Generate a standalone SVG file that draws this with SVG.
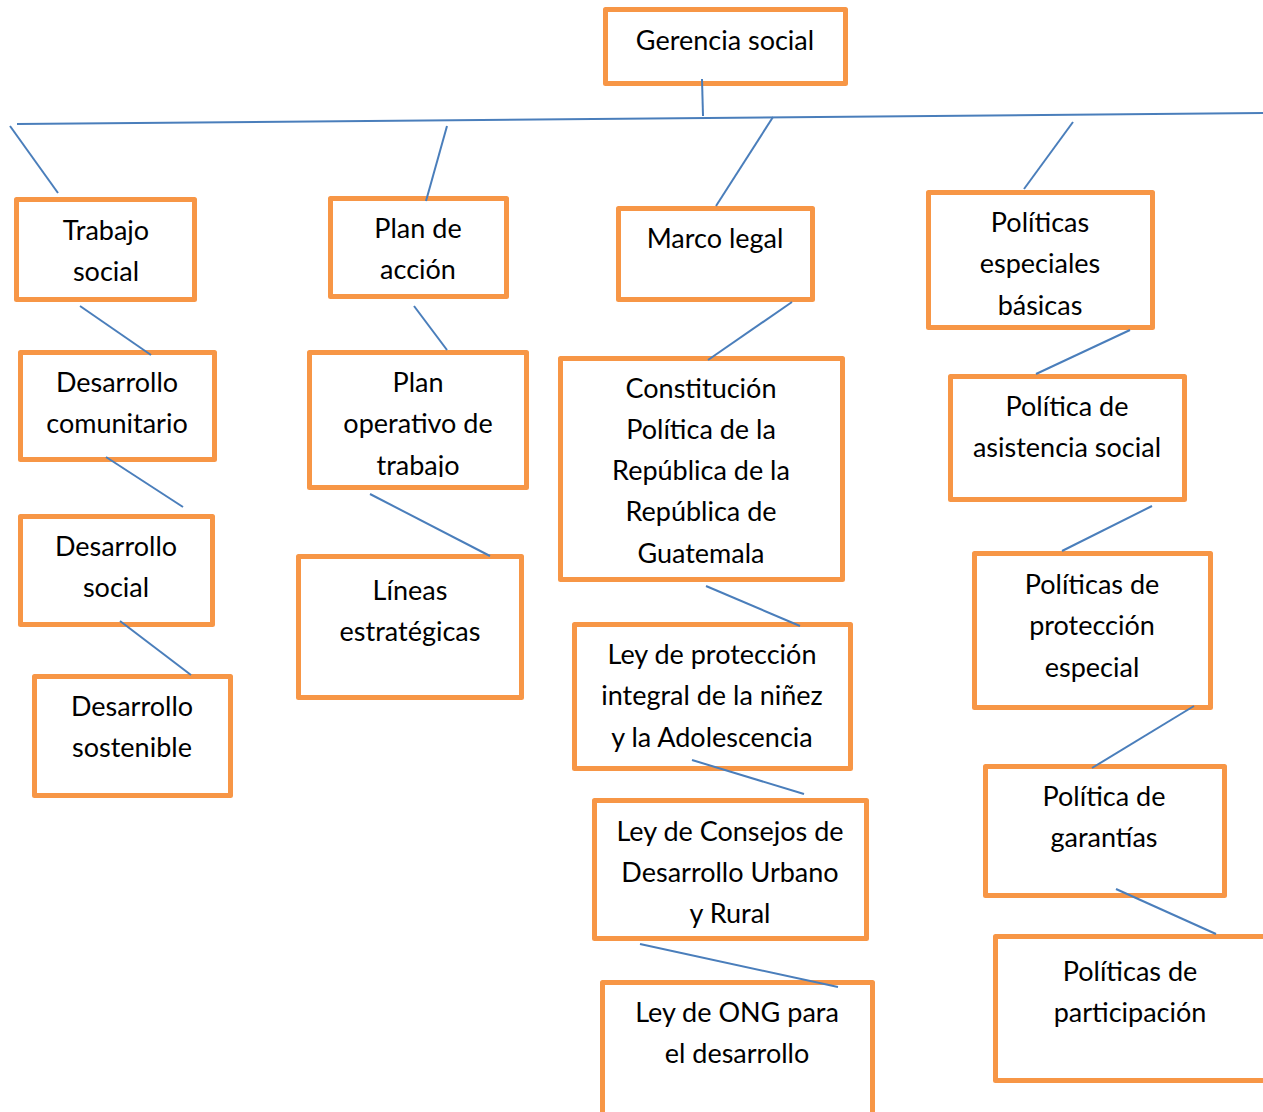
<svg xmlns="http://www.w3.org/2000/svg" width="1263" height="1112" viewBox="0 0 1263 1112">
<style>
.box{fill:#fff;stroke:#F79646;stroke-width:5;stroke-linejoin:round}
.t{font-family:Lato,"Open Sans","Liberation Sans",sans-serif;font-size:27px;fill:#000;text-anchor:middle}
.c line{stroke:#4A7EBB;stroke-width:2}
</style>
<defs>
<clipPath id="clipPO"><rect x="310" y="352" width="216" height="125"/></clipPath>
</defs>
<rect width="1263" height="1112" fill="#fff"/>
<g id="n-gerencia"><rect class="box" x="605.5" y="9.5" width="240" height="74"/><text class="t" x="725" y="50">Gerencia social</text></g>
<g id="n-trabajo"><rect class="box" x="16.5" y="199.5" width="178" height="100"/><text class="t" x="106" y="240">Trabajo</text><text class="t" x="106" y="281">social</text></g>
<g id="n-plan"><rect class="box" x="330.5" y="198.5" width="176" height="98"/><text class="t" x="418" y="238">Plan de</text><text class="t" x="418" y="279">acción</text></g>
<g id="n-marco"><rect class="box" x="618.5" y="208.5" width="194" height="91"/><text class="t" x="715" y="248">Marco legal</text></g>
<g id="n-politicas"><rect class="box" x="928.5" y="192.5" width="224" height="135"/><text class="t" x="1040" y="232">Políticas</text><text class="t" x="1040" y="273">especiales</text><text class="t" x="1040" y="315">básicas</text></g>
<g id="n-comunitario"><rect class="box" x="20.5" y="352.5" width="194" height="107"/><text class="t" x="117" y="392">Desarrollo</text><text class="t" x="117" y="433">comunitario</text></g>
<g id="n-dsocial"><rect class="box" x="20.5" y="516.5" width="192" height="108"/><text class="t" x="116" y="556">Desarrollo</text><text class="t" x="116" y="597">social</text></g>
<g id="n-sostenible"><rect class="box" x="34.5" y="676.5" width="196" height="119"/><text class="t" x="132" y="716">Desarrollo</text><text class="t" x="132" y="757">sostenible</text></g>
<g id="n-operativo"><rect class="box" x="309.5" y="352.5" width="217" height="135"/><text class="t" x="418" y="392">Plan</text><text class="t" x="418" y="433">operativo de</text><text class="t" x="418" y="475" clip-path="url(#clipPO)">trabajo</text></g>
<g id="n-lineas"><rect class="box" x="298.5" y="556.5" width="223" height="141"/><text class="t" x="410" y="600">Líneas</text><text class="t" x="410" y="641">estratégicas</text></g>
<g id="n-constitucion"><rect class="box" x="560.5" y="358.5" width="282" height="221"/><text class="t" x="701" y="398">Constitución</text><text class="t" x="701" y="439">Política de la</text><text class="t" x="701" y="480">República de la</text><text class="t" x="701" y="521">República de</text><text class="t" x="701" y="563">Guatemala</text></g>
<g id="n-ninez"><rect class="box" x="574.5" y="624.5" width="276" height="144"/><text class="t" x="712" y="664">Ley de protección</text><text class="t" x="712" y="705">integral de la niñez</text><text class="t" x="712" y="747">y la Adolescencia</text></g>
<g id="n-consejos"><rect class="box" x="594.5" y="800.5" width="272" height="138"/><text class="t" x="730" y="841">Ley de Consejos de</text><text class="t" x="730" y="882">Desarrollo Urbano</text><text class="t" x="730" y="923">y Rural</text></g>
<g id="n-ong"><rect class="box" x="602.5" y="982.5" width="270" height="140"/><text class="t" x="737" y="1022">Ley de ONG para</text><text class="t" x="737" y="1063">el desarrollo</text></g>
<g id="n-asistencia"><rect class="box" x="950.5" y="376.5" width="234" height="123"/><text class="t" x="1067" y="416">Política de</text><text class="t" x="1067" y="457">asistencia social</text></g>
<g id="n-proteccion"><rect class="box" x="974.5" y="553.5" width="236" height="154"/><text class="t" x="1092" y="594">Políticas de</text><text class="t" x="1092" y="635">protección</text><text class="t" x="1092" y="677">especial</text></g>
<g id="n-garantias"><rect class="box" x="985.5" y="766.5" width="239" height="129"/><text class="t" x="1104" y="806">Política de</text><text class="t" x="1104" y="847">garantías</text></g>
<g id="n-participacion"><rect class="box" x="995.5" y="936.5" width="280" height="144"/><text class="t" x="1130" y="981">Políticas de</text><text class="t" x="1130" y="1022">participación</text></g>
<g id="connectors" class="c">
<line x1="17" y1="124" x2="1263" y2="113"/>
<line x1="702" y1="79" x2="703" y2="116"/>
<line x1="10" y1="126" x2="58" y2="193"/>
<line x1="447" y1="126" x2="426" y2="201"/>
<line x1="773" y1="117" x2="716" y2="206"/>
<line x1="1073" y1="122" x2="1024" y2="189"/>
<line x1="80" y1="306" x2="151" y2="355"/>
<line x1="106" y1="457" x2="183" y2="507"/>
<line x1="120" y1="621" x2="191" y2="675"/>
<line x1="414" y1="306" x2="447" y2="350"/>
<line x1="370" y1="494" x2="490" y2="556"/>
<line x1="792" y1="302" x2="708" y2="360"/>
<line x1="706" y1="586" x2="800" y2="626"/>
<line x1="692" y1="760" x2="804" y2="794"/>
<line x1="640" y1="944" x2="838" y2="987"/>
<line x1="1130" y1="330" x2="1036" y2="374"/>
<line x1="1152" y1="506" x2="1062" y2="551"/>
<line x1="1194" y1="706" x2="1092" y2="768"/>
<line x1="1116" y1="889" x2="1216" y2="934"/>
</g>
</svg>
